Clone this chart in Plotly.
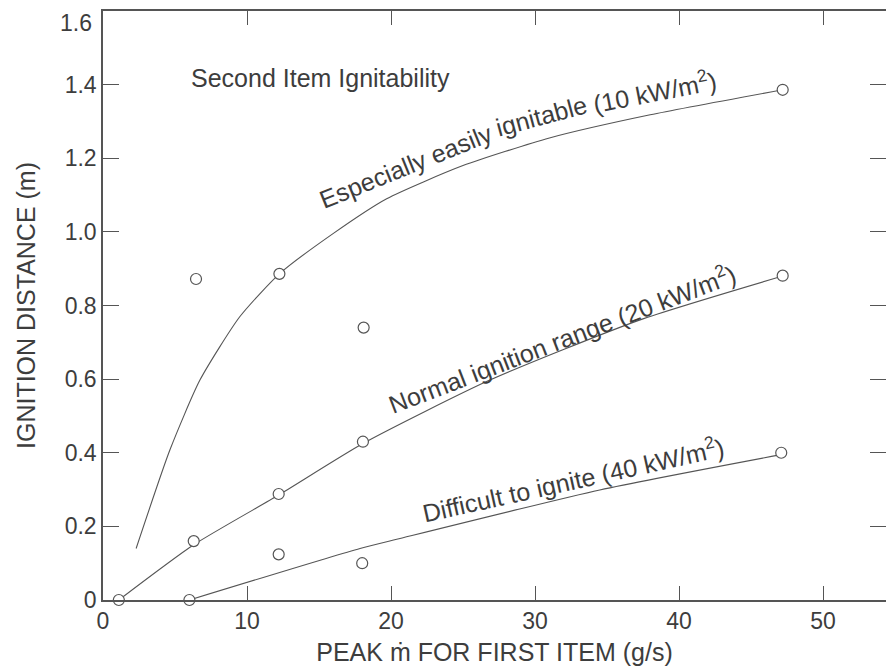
import plotly.graph_objects as go

# ---- data ----
easy_x = [2.3, 4.65, 6.74, 9.51, 12.25, 16.0, 19.7, 25.0, 31.0, 38.0, 47.2]
easy_y = [0.14, 0.408, 0.598, 0.77, 0.886, 0.996, 1.09, 1.18, 1.255, 1.318, 1.386]

normal_x = [1.1, 6.3, 12.2, 18.05, 26.9, 37.3, 47.2]
normal_y = [0.0, 0.15, 0.285, 0.425, 0.598, 0.761, 0.88]

difficult_x = [6.0, 17.85, 20.4, 34.5, 47.1]
difficult_y = [0.0, 0.14, 0.165, 0.299, 0.395]

points_x = [1.1, 6.0, 6.3, 6.46, 12.2, 12.2, 12.25, 18.0, 18.05, 18.1, 47.1, 47.2, 47.2]
points_y = [0.0, 0.0, 0.16, 0.872, 0.288, 0.124, 0.886, 0.10, 0.43, 0.74, 0.40, 0.881, 1.386]

x_ticks = [0, 10, 20, 30, 40, 50]
y_ticks = [0, 0.2, 0.4, 0.6, 0.8, 1.0, 1.2, 1.4, 1.6]
y_tick_labels = ["0", "0.2", "0.4", "0.6", "0.8", "1.0", "1.2", "1.4", "1.6"]

FONT = "Liberation Sans, Arial, Helvetica, sans-serif"
INK = "#3d3d3d"
LINE = "#555555"

fig = go.Figure()
for xs, ys in [(easy_x, easy_y), (normal_x, normal_y), (difficult_x, difficult_y)]:
    fig.add_trace(go.Scatter(x=xs, y=ys, mode="lines",
                             line=dict(color=LINE, width=1.1, shape="spline", smoothing=0.6),
                             showlegend=False, hoverinfo="skip", cliponaxis=False))

fig.add_trace(go.Scatter(x=points_x, y=points_y, mode="markers",
                         marker=dict(symbol="circle", size=11, color="white",
                                     line=dict(color=LINE, width=1.2)),
                         showlegend=False, cliponaxis=False))

ann_font = dict(family=FONT, size=25, color=INK)
annotations = [
    dict(x=15.07, y=1.418, text="Second Item Ignitability", textangle=0),
    dict(x=21.07, y=1.179, text="Especially easily", textangle=-22),
    dict(x=30.44, y=1.314, text="ignitable", textangle=-15),
    dict(x=38.28, y=1.383, text="(10 kW/m<sup>2</sup>)", textangle=-11),
    dict(x=31.875, y=0.712, text="Normal ignition range (20 kW/m<sup>2</sup>)", textangle=-21),
    dict(x=32.64, y=0.329, text="Difficult to ignite (40 kW/m<sup>2</sup>)", textangle=-12.5),
]
for a in annotations:
    a.update(xref="x", yref="y", showarrow=False, font=ann_font,
             xanchor="center", yanchor="middle")

# top y tick label sits just below the frame corner in the reference
annotations.append(dict(xref="paper", yref="y", x=0, y=y_ticks[-1], text=y_tick_labels[-1],
                        showarrow=False, xanchor="right", yanchor="middle",
                        xshift=-9, yshift=-12, font=dict(family=FONT, size=23, color=INK)))

fig.update_layout(
    width=886, height=667, autosize=False,
    margin=dict(l=103, r=0, t=11, b=67),
    paper_bgcolor="white", plot_bgcolor="white",
    font=dict(family=FONT, color=INK),
    annotations=annotations,
    showlegend=False,
)
fig.update_xaxes(
    range=[0, 54.375], tickvals=x_ticks, ticks="inside", ticklen=14, tickwidth=1.2,
    tickcolor=LINE, showline=True, linecolor=LINE, linewidth=1.5, mirror="ticks",
    showgrid=False, zeroline=False, tickfont=dict(size=23, family=FONT, color=INK),
    title=dict(text="PEAK ṁ FOR FIRST ITEM (g/s)", font=dict(size=25, family=FONT, color=INK),
               standoff=10),
    automargin=False,
)
fig.update_yaxes(
    range=[0, 1.6], tickvals=y_ticks[:-1], ticktext=y_tick_labels[:-1], ticks="inside",
    ticklen=16, tickwidth=1.2, tickcolor=LINE, showline=True, linecolor=LINE, linewidth=1.5,
    mirror="ticks", showgrid=False, zeroline=False,
    tickfont=dict(size=23, family=FONT, color=INK),
    title=dict(text="IGNITION DISTANCE (m)", font=dict(size=25, family=FONT, color=INK),
               standoff=22),
    automargin=False,
)

fig.write_html("out.html")
